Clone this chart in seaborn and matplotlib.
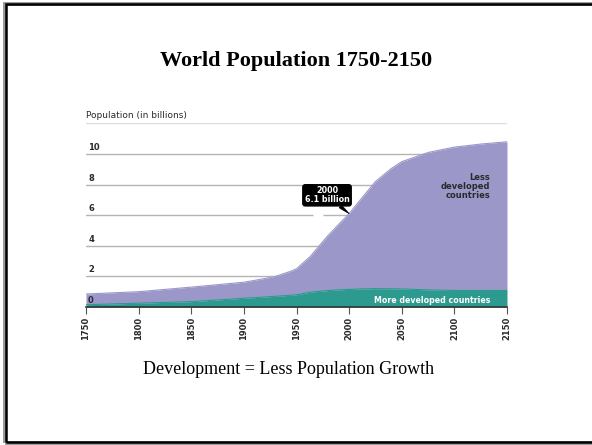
import matplotlib
matplotlib.use("Agg")
import matplotlib.pyplot as plt
from matplotlib.patches import Rectangle
import numpy as np
import pandas as pd
import seaborn as sns

# World population estimates and projections, billions
years = [1750, 1800, 1850, 1900, 1915, 1930, 1945, 1950, 1963, 1979, 1990, 2000,
         2010, 2025, 2040, 2050, 2075, 2100, 2125, 2150]
world_total = [0.85, 1.0, 1.3, 1.62, 1.8, 2.0, 2.35, 2.5, 3.3, 4.6, 5.4, 6.1,
               6.95, 8.2, 9.05, 9.5, 10.1, 10.45, 10.65, 10.8]
more_developed = [0.15, 0.25, 0.35, 0.57, 0.63, 0.7, 0.77, 0.8, 0.97, 1.07, 1.12, 1.15,
                  1.18, 1.2, 1.19, 1.18, 1.12, 1.08, 1.08, 1.08]

x_ticks = [1750, 1800, 1850, 1900, 1950, 2000, 2050, 2100, 2150]
y_ticks = [0, 2, 4, 6, 8, 10]
callout_year, callout_value = 2000, 6.1

df = pd.DataFrame({"year": years, "total": world_total, "more": more_developed})

purple = "#9b98c9"
teal = "#2c9a8f"
grid_c = "#b4b4b4"
text_c = "#2a2a2a"

sns.set_theme(style="white")
plt.rcParams["font.family"] = ["DejaVu Sans"]

fig = plt.figure(figsize=(5.92, 4.45), dpi=100)
fig.patch.set_facecolor("white")

ax = fig.add_axes([86 / 592, 1 - 307 / 445, 421 / 592, (307 - 123.4) / 445])
ax.set_facecolor("white")

# horizontal guide lines behind the areas
for v in [2, 4, 6, 8, 10]:
    ax.axhline(v, color=grid_c, lw=1.0, zorder=0)
ax.axhline(12, color="#dddddd", lw=1.0, zorder=0)
# small break in the 6-billion line beside the callout
ax.plot([1966, 1975], [6, 6], color="white", lw=2.5, zorder=0.5, solid_capstyle="butt")

# stacked areas
ax.fill_between(df["year"], df["more"], df["total"], color=purple, lw=0, zorder=1)
ax.fill_between(df["year"], 0, df["more"], color=teal, lw=0, zorder=2)
sns.lineplot(data=df, x="year", y="total", ax=ax, color=purple, lw=0.8, zorder=1.5)
sns.lineplot(data=df, x="year", y="more", ax=ax, color=teal, lw=0.8, zorder=2.5)

ax.set_xlim(1750, 2150)
ax.set_ylim(0, 12)
ax.set_xlabel("")
ax.set_ylabel("")

# y values written inside the plot, just above each line
ax.set_yticks([])
for v in y_ticks:
    ax.text(1752, v + 0.42, str(v), fontsize=6, fontweight="bold", color=text_c,
            ha="left", va="center", zorder=4)

ax.text(0.0, 1.02, "Population (in billions)", transform=ax.transAxes, fontsize=6.5,
        color=text_c, ha="left", va="bottom")

# x axis
ax.set_xticks(x_ticks)
ax.set_xticklabels([str(t) for t in x_ticks], rotation=90, fontsize=6,
                   fontweight="bold", color=text_c)
ax.tick_params(axis="x", direction="out", length=5, width=0.8, color="#555555",
               pad=2, bottom=True)
for s in ["top", "right", "left"]:
    ax.spines[s].set_visible(False)
ax.spines["bottom"].set_color("#333333")
ax.spines["bottom"].set_linewidth(1.2)
ax.spines["bottom"].set_zorder(5)

# region labels
ax.text(2134, 7.9, "Less\ndeveloped\ncountries", fontsize=6, fontweight="bold",
        color=text_c, ha="right", va="center", linespacing=1.0, zorder=4)
ax.text(2134, 0.45, "More developed countries", fontsize=5.7, fontweight="bold",
        color="white", ha="right", va="center", zorder=4)

# callout for the year 2000
ax.annotate(f"{callout_year}\n{callout_value} billion",
            xy=(callout_year, callout_value), xytext=(1979, 7.3),
            fontsize=5.8, fontweight="bold", color="white", ha="center", va="center",
            linespacing=0.95,
            bbox=dict(boxstyle="round,pad=0.22,rounding_size=0.3", fc="black", ec="black"),
            arrowprops=dict(arrowstyle="wedge,tail_width=0.45,shrink_factor=0.5",
                            fc="black", ec="black", lw=0.5,
                            shrinkA=0, shrinkB=0),
            zorder=6)

# slide texts
fig.text(296 / 592, 1 - 61 / 445, "World Population 1750-2150",
         fontsize=16, fontweight="bold", family="Liberation Serif",
         ha="center", va="center", color="black")
fig.text(289 / 592, 1 - 369 / 445, "Development = Less Population Growth",
         fontsize=13, family="Liberation Serif", ha="center", va="center", color="black")

# slide frame
fig.add_artist(Rectangle((4.5 / 592, 1 - 442.5 / 445), 600 / 592, 439 / 445,
                         transform=fig.transFigure, fill=False, ec="#999999", lw=2.8))
fig.add_artist(Rectangle((6 / 592, 1 - 441.5 / 445), 600 / 592, 438 / 445,
                         transform=fig.transFigure, fill=False, ec="black", lw=1.8))

fig.savefig("out.png", dpi=100, facecolor="white")
